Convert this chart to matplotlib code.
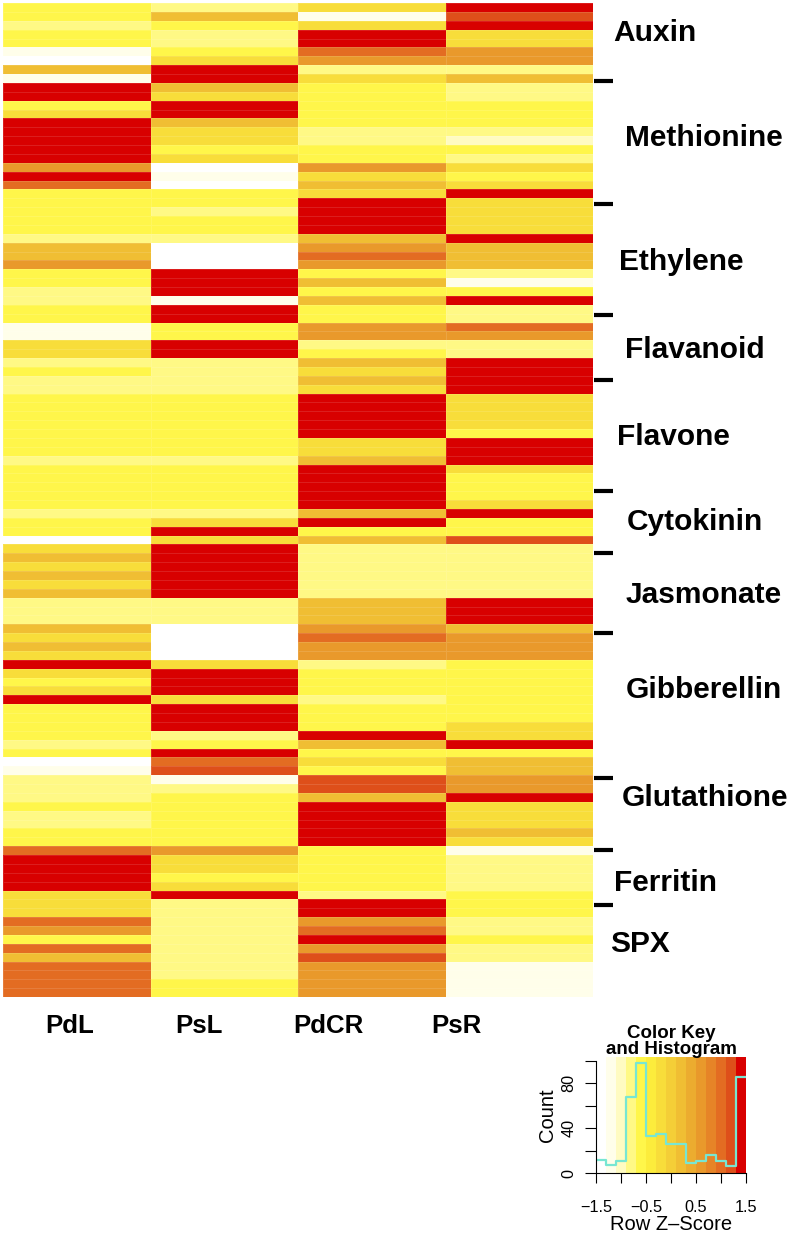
import numpy as np
import matplotlib
matplotlib.use("Agg")
import matplotlib.pyplot as plt
from matplotlib.colors import ListedColormap, BoundaryNorm

# --- data: row z-scores per sample (112 genes, top to bottom)
samples = ["PdL", "PsL", "PdCR", "PsR"]

pdl = [-0.6, -0.6, -0.8, -0.6, -0.6, -1.2, -1.45, 0.15, -1.2, 1.45,
       1.45, -0.6, -0.2, 1.45, 1.45, 1.45, 1.45, 1.45, 0.6, 1.45,
       0.95, -0.6, -0.6, -0.6, -0.6, -0.6, -0.8, 0.15, 0.15, 0.6,
       -0.6, -0.6, -0.8, -0.8, -0.6, -0.6, -1.2, -1.2, -0.2, -0.2,
       -0.8, -0.6, -0.8, -0.8, -0.6, -0.6, -0.6, -0.6, -0.6, -0.6,
       -0.6, -0.8, -0.6, -0.6, -0.6, -0.6, -0.6, -0.8, -0.6, -0.6,
       -1.45, -0.2, 0.15, -0.2, 0.15, -0.2, 0.15, -0.8, -0.8, -0.8,
       0.15, -0.2, 0.15, -0.2, 1.45, -0.2, -0.6, -0.2, 1.45, -0.6,
       -0.6, -0.6, -0.6, -0.8, -0.6, -1.45, -1.2, -0.8, -0.8, -0.8,
       -0.6, -0.8, -0.8, -0.6, -0.6, 0.95, 1.45, 1.45, 1.45, 1.45,
       -0.2, -0.2, -0.2, 0.95, 0.6, -0.6, 0.95, 0.15, 0.95, 0.95,
       0.95, 0.95]

psl = [-0.8, 0.15, -0.6, -0.8, -0.8, -0.6, -0.2, 1.45, 1.45, 0.15,
       -0.2, 1.45, 1.45, 0.15, -0.2, -0.2, -0.6, -0.2, -1.45, -1.2,
       -1.45, -0.6, -0.6, -0.8, -0.6, -0.6, -0.8, -1.45, -1.45, -1.45,
       1.45, 1.45, 1.45, -1.2, 1.45, 1.45, -0.6, -0.6, 1.45, 1.45,
       -0.8, -0.8, -0.8, -0.8, -0.6, -0.6, -0.6, -0.6, -0.6, -0.6,
       -0.6, -0.8, -0.6, -0.6, -0.6, -0.6, -0.6, -0.8, -0.2, 1.45,
       -0.2, 1.45, 1.45, 1.45, 1.45, 1.45, 1.45, -0.8, -0.8, -0.8,
       -1.45, -1.45, -1.45, -1.45, -0.2, 1.45, 1.45, 1.45, -0.2, 1.45,
       1.45, 1.45, -0.8, -0.6, 1.45, 0.95, 1.2, -1.2, -0.8, -0.6,
       -0.6, -0.6, -0.6, -0.6, -0.6, 0.6, -0.2, -0.2, -0.6, -0.2,
       1.45, -0.8, -0.8, -0.8, -0.8, -0.8, -0.8, -0.8, -0.8, -0.8,
       -0.6, -0.6]

pdcr = [-0.2, -1.2, -0.2, 1.45, 1.45, 0.95, 0.6, -0.8, -0.2, -0.6,
        -0.6, -0.6, -0.6, -0.6, -0.8, -0.8, -0.6, -0.6, 0.6, -0.2,
        0.15, -0.2, 1.45, 1.45, 1.45, 1.45, 0.15, 0.6, 0.95, 0.6,
        -0.6, 0.15, -0.6, 0.15, -0.6, -0.6, 0.6, 0.6, -0.8, -0.6,
        0.15, -0.2, 0.15, -0.2, 1.45, 1.45, 1.45, 1.45, 1.45, -0.2,
        -0.2, 0.15, 1.45, 1.45, 1.45, 1.45, 1.45, 0.15, 1.45, -0.6,
        0.15, -0.8, -0.8, -0.8, -0.8, -0.8, -0.8, 0.15, 0.15, 0.15,
        0.6, 0.95, 0.6, 0.6, -0.8, -0.6, -0.6, -0.6, -0.8, -0.6,
        -0.6, -0.6, 1.45, 0.15, -0.6, -0.2, -0.6, 1.2, 1.2, 0.15,
        1.45, 1.45, 1.45, 1.45, 1.45, -0.6, -0.6, -0.6, -0.6, -0.6,
        -0.8, 1.45, 1.45, 0.6, 0.95, 1.45, 0.6, 1.2, 0.6, 0.6,
        0.6, 0.6]

psr = [1.45, 1.2, 1.45, -0.2, -0.2, 0.6, 0.6, -0.8, 0.15, -0.8,
       -0.8, -0.6, -0.6, -0.6, -0.8, -1.0, -0.6, -0.8, -0.2, -0.6,
       -0.2, 1.45, -0.2, -0.2, -0.2, -0.2, 1.45, 0.15, 0.15, 0.15,
       -0.8, -1.2, -0.6, 1.45, -0.8, -0.8, 0.95, 0.6, -0.8, -0.8,
       1.45, 1.45, 1.45, 1.45, -0.2, -0.2, -0.2, -0.2, -0.6, 1.45,
       1.45, 1.45, -0.2, -0.6, -0.6, -0.6, -0.2, 1.45, -0.6, -0.6,
       1.2, -0.8, -0.8, -0.8, -0.8, -0.8, -0.8, 1.45, 1.45, 1.45,
       0.15, 0.6, 0.6, 0.6, -0.6, -0.6, -0.6, -0.6, -0.6, -0.6,
       -0.6, -0.2, -0.2, 1.45, -0.6, 0.15, 0.15, 0.6, 0.6, 1.45,
       -0.2, -0.2, -0.2, 0.15, -0.2, -1.2, -0.8, -0.8, -0.8, -0.8,
       -0.6, -0.6, -0.6, -0.8, -0.8, -0.6, -0.8, -0.8, -1.2, -1.2,
       -1.2, -1.2]

# pathway labels (row position of label centre) and separators (row units)
groups  = ["Auxin", "Methionine", "Ethylene", "Flavanoid", "Flavone", "Cytokinin",
           "Jasmonate", "Gibberellin", "Glutathione", "Ferritin", "SPX"]
group_y = [3.4, 15.2, 29.2, 39.1, 48.9, 58.5, 66.7, 77.4, 89.6, 99.2, 106.0]
group_x = [1.034, 1.054, 1.044, 1.054, 1.041, 1.058, 1.056, 1.056, 1.049, 1.036, 1.029]
sep_y   = [8.8, 22.6, 35.2, 42.5, 55.0, 62.0, 71.0, 87.3, 95.4, 101.6]

# colour key
key_breaks = [-1.5, -1.3, -1.1, -0.9, -0.7, -0.5, -0.3, -0.1, 0.1, 0.3, 0.5, 0.7, 0.9, 1.1, 1.3, 1.5]
key_colors = ["#FFFFFF", "#FFFEEA", "#FFFBC2", "#FFF985", "#FFF64A", "#FCEC3C", "#F8DD3A", "#F4CE37",
              "#F0BE33", "#ECAC2F", "#E9992B", "#E68427", "#E36C22", "#DE4F1A", "#D80000"]
hist_counts = [12, 7, 11, 68, 98, 33, 35, 26, 26, 9, 11, 16, 11, 6, 85]

plt.rcParams['font.family'] = ['Liberation Sans', 'DejaVu Sans']

W, H = 797, 1236
fig = plt.figure(figsize=(W / 100, H / 100), dpi=100)

def px_axes(x0, y0, x1, y1):
    return fig.add_axes([x0 / W, 1 - y1 / H, (x1 - x0) / W, (y1 - y0) / H])

cmap = ListedColormap(key_colors)
norm = BoundaryNorm(key_breaks, cmap.N)

# --- heatmap
ax = px_axes(3, 3, 593, 997)
z = np.array([pdl, psl, pdcr, psr]).T
nrow = z.shape[0]
ax.pcolormesh(np.arange(len(samples) + 1), np.arange(nrow + 1), z, cmap=cmap, norm=norm,
              edgecolors=(1, 1, 1, 0.12), linewidth=0.6)
ax.set_xlim(0, len(samples))
ax.set_ylim(nrow, 0)
ax.axis("off")

tr = ax.get_yaxis_transform()
for name, gx, gy in zip(groups, group_x, group_y):
    ax.text(gx, gy, name, transform=tr, ha="left", va="center",
            fontsize=21.5, fontweight="bold", clip_on=False)
for sy in sep_y:
    ax.plot([1.002, 1.034], [sy, sy], transform=tr, color="black", lw=3,
            solid_capstyle="butt", clip_on=False)

# column labels (placed slightly left of the column centres, as in the figure)
label_px = [70, 199, 328, 456]
for s, lx in zip(samples, label_px):
    fig.text(lx / W, 1 - 1026 / H, s, ha="center", va="center",
             fontsize=18.6, fontweight="bold")

# --- colour key with histogram
kax = px_axes(596, 1057, 746, 1173)
mids = [(a + b) / 2 for a, b in zip(key_breaks[:-1], key_breaks[1:])]
ytop = max(hist_counts) / 0.95
kax.pcolormesh(key_breaks, [0, ytop], [mids], cmap=cmap, norm=norm)
kax.step(key_breaks, hist_counts + [hist_counts[-1]], where="post",
         color="#78e6d2", lw=1.6)
kax.set_xlim(-1.5, 1.5)
kax.set_ylim(0, ytop)
for side in ["top", "right"]:
    kax.spines[side].set_visible(False)
kax.spines["left"].set_bounds(0, 100)
kax.set_xticks([-1.5, -1.0, -0.5, 0.0, 0.5, 1.0, 1.5])
kax.set_xticklabels(["\u22121.5", "", "\u22120.5", "", "0.5", "", "1.5"])
kax.set_yticks([0, 20, 40, 60, 80, 100])
kax.set_yticklabels(["0", "", "40", "", "80", ""], rotation=90, va="center")
kax.tick_params(axis="x", length=7.2, pad=12, labelsize=11.7)
kax.tick_params(axis="y", length=8, pad=6, labelsize=11.7)

fig.text(671 / W, 1 - 1034 / H, "Color Key", ha="center", va="center",
         fontsize=13.5, fontweight="bold")
fig.text(671 / W, 1 - 1050 / H, "and Histogram", ha="center", va="center",
         fontsize=13.5, fontweight="bold")
fig.text(547 / W, 1 - 1115 / H, "Count", rotation=90, ha="center", va="center", fontsize=14.5)
fig.text(671 / W, 1 - 1224 / H, "Row Z\u2013Score", ha="center", va="center", fontsize=14.5)

fig.savefig("out.png", dpi=100)
